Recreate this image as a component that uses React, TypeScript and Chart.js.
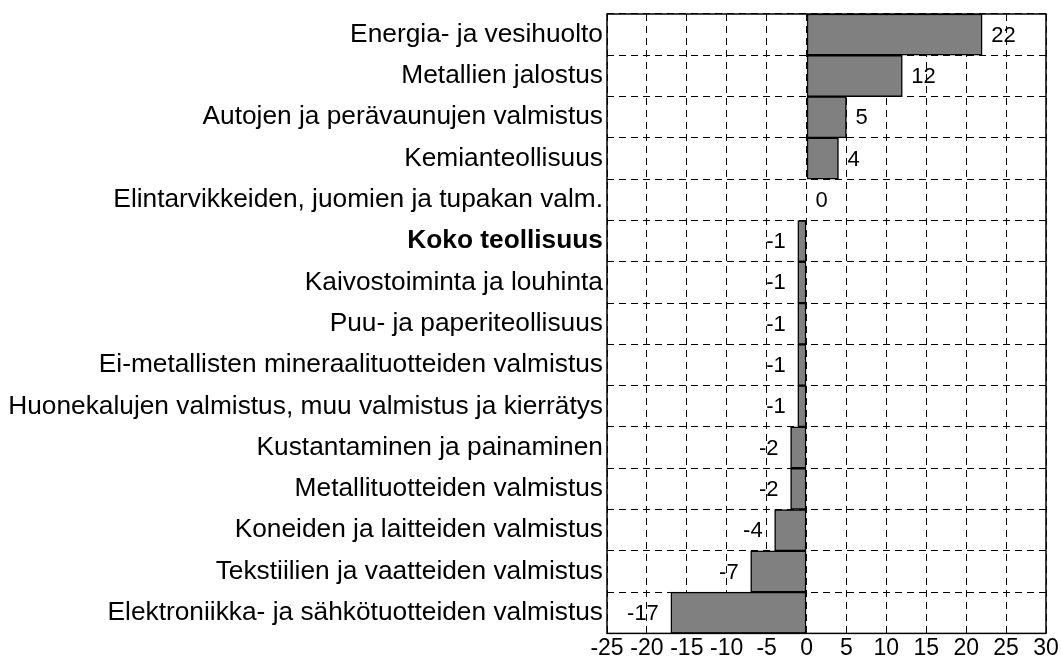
import React, { useEffect, useRef } from "react";
import { Chart, registerables } from "chart.js";

Chart.register(...registerables);

const categories = [
  "Energia- ja vesihuolto",
  "Metallien jalostus",
  "Autojen ja perävaunujen valmistus",
  "Kemianteollisuus",
  "Elintarvikkeiden, juomien ja tupakan valm.",
  "Koko teollisuus",
  "Kaivostoiminta ja louhinta",
  "Puu- ja paperiteollisuus",
  "Ei-metallisten mineraalituotteiden valmistus",
  "Huonekalujen valmistus, muu valmistus ja kierrätys",
  "Kustantaminen ja painaminen",
  "Metallituotteiden valmistus",
  "Koneiden ja laitteiden valmistus",
  "Tekstiilien ja vaatteiden valmistus",
  "Elektroniikka- ja sähkötuotteiden valmistus",
];
const values = [22, 12, 5, 4, 0, -1.1, -1.1, -1.1, -1.1, -1.1, -2, -2, -4, -7, -17];
const valueLabels = ["22", "12", "5", "4", "0", "-1", "-1", "-1", "-1", "-1", "-2", "-2", "-4", "-7", "-17"];
const boldIndex = 5;
const xMin = -25;
const xMax = 30;
const xStep = 5;

const FONT = "Liberation Sans, Arial, sans-serif";

const framePlugin = {
  id: "frameAndLabels",
  afterDatasetsDraw(chart: any) {
    const { ctx, chartArea, scales } = chart;
    const x = scales.x;
    const y = scales.y;
    ctx.save();
    ctx.font = `22px ${FONT}`;
    ctx.fillStyle = "#000";
    ctx.textBaseline = "middle";
    values.forEach((v, i) => {
      const px = x.getPixelForValue(v);
      const py = y.getPixelForValue(i);
      if (v >= 0) {
        ctx.textAlign = "left";
        ctx.fillText(valueLabels[i], px + 9, py + 1);
      } else {
        ctx.textAlign = "right";
        ctx.fillText(valueLabels[i], px - 12, py + 1);
      }
    });
    ctx.strokeStyle = "#000";
    ctx.lineWidth = 1.5;
    ctx.setLineDash([]);
    ctx.strokeRect(
      chartArea.left,
      chartArea.top,
      chartArea.right - chartArea.left,
      chartArea.bottom - chartArea.top
    );
    ctx.restore();
  },
};

export default function App() {
  const ref = useRef<HTMLCanvasElement | null>(null);
  useEffect(() => {
    if (!ref.current) return;
    const chart = new Chart(ref.current, {
      type: "bar",
      data: {
        labels: categories,
        datasets: [
          {
            data: values,
            backgroundColor: "#808080",
            borderColor: "#000",
            borderWidth: 1.5,
            borderSkipped: false,
            barPercentage: 1,
            categoryPercentage: 1,
          },
        ],
      },
      options: {
        indexAxis: "y",
        responsive: false,
        animation: false,
        layout: { padding: { top: 14, right: 15, left: 0, bottom: 3 } },
        plugins: { legend: { display: false }, tooltip: { enabled: false } },
        scales: {
          x: {
            min: xMin,
            max: xMax,
            ticks: {
              stepSize: xStep,
              font: { family: FONT, size: 23 },
              color: "#000",
              maxRotation: 0,
              autoSkip: false,
              padding: 1,
            },
            grid: {
              color: "#000",
              lineWidth: 1,
              drawTicks: false,
            },
            border: { display: false, dash: [7, 5] },
          },
          y: {
            afterFit(scale: any) {
              scale.width = 607;
              scale.paddingTop = 0;
              scale.paddingBottom = 0;
            },
            ticks: {
              font: (ctx: any) => ({
                family: FONT,
                size: 26.3,
                weight: ctx.index === boldIndex ? "bold" : "normal",
              }),
              color: "#000",
              padding: 4,
              autoSkip: false,
            },
            grid: {
              offset: true,
              color: "#000",
              lineWidth: 1,
              drawTicks: false,
            },
            border: { display: false, dash: [7, 5] },
          },
        },
      },
      plugins: [framePlugin],
    } as any);
    return () => chart.destroy();
  }, []);
  return (
    <div style={{ position: "fixed", left: 0, top: 0, width: 1061, height: 666, background: "#fff" }}>
      <canvas ref={ref} width={1061} height={666} />
    </div>
  );
}
